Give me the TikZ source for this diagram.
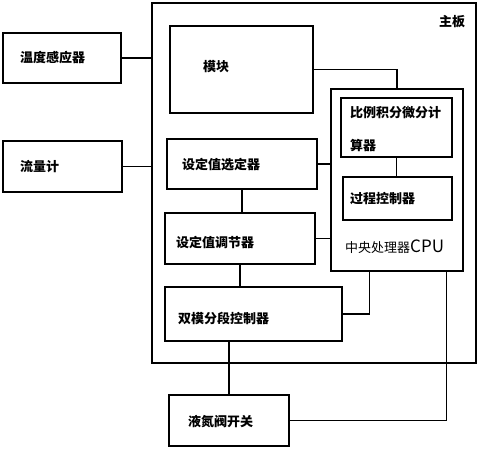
\documentclass[tikz,border=0pt]{standalone}
\usepackage{fontspec}
\newfontfamily\cjk{Noto Sans CJK SC}
\usetikzlibrary{calc}
\begin{document}
\begin{tikzpicture}[x=1pt,y=-1pt,
  box/.style={draw, line width=1.1pt, inner sep=0pt},
  lbl/.style={anchor=west, inner sep=0pt, font=\cjk\bfseries\fontsize{13}{15}\selectfont},
  conn/.style={line width=1.1pt}]
\useasboundingbox (0,0) rectangle (480,450);
% boxes
\node[box, minimum width=324pt, minimum height=360pt] (main) at (314,183) {};
\node[box, minimum width=118pt, minimum height=50pt] (temp) at (62,58) {};
\node[box, minimum width=119pt, minimum height=51pt] (flow) at (62.5,166.5) {};
\node[box, minimum width=143pt, minimum height=87pt] (module) at (241.5,69.5) {};
\node[box, minimum width=132pt, minimum height=182pt] (cpu) at (397,180) {};
\node[box, minimum width=111pt, minimum height=59pt] (pid) at (396.5,127.5) {};
\node[box, minimum width=109pt, minimum height=43pt] (proc) at (397.5,198.5) {};
\node[box, minimum width=150pt, minimum height=50pt] (sel) at (242,164) {};
\node[box, minimum width=150pt, minimum height=51pt] (adj) at (240,238.5) {};
\node[box, minimum width=177pt, minimum height=54pt] (dual) at (253.5,314) {};
\node[box, minimum width=120pt, minimum height=51pt] (valve) at (229,420.5) {};
% labels
\node[lbl, anchor=center] (tmain) at (452,22) {主板};
\node[lbl] (ttemp) at (20,58) {温度感应器};
\node[lbl] (tflow) at (20,167) {流量计};
\node[lbl] (tmodule) at (203,67) {模块};
\node[lbl] (tsel) at (182,165) {设定值选定器};
\node[lbl] (tpid1) at (350,113) {比例积分微分计};
\node[lbl] (tpid2) at (350,145) {算器};
\node[lbl] (tproc) at (350,199) {过程控制器};
\node[lbl, font=\cjk\fontsize{13}{15}\selectfont] (tcpu) at (345,247) {中央处理器\fontsize{17}{19}\selectfont CPU};
\node[lbl] (tadj) at (176,242) {设定值调节器};
\node[lbl] (tdual) at (178,318) {双模分段控制器};
\node[lbl] (tvalve) at (188,422) {液氮阀开关};
% connectors
\draw[conn] (temp.east) -- (temp.east -| main.west);
\draw[conn] (flow.east) -- (flow.east -| main.west);
\draw[conn] (module.east) -| (cpu.north);
\draw[conn] (pid.south) -- (pid.south |- proc.north);
\draw[conn] (sel.east) -- (sel.east -| cpu.west);
\draw[conn] (sel.south) -- (sel.south |- adj.north);
\draw[conn] (adj.east) -- (adj.east -| cpu.west);
\draw[conn] (adj.south) -- (adj.south |- dual.north);
\draw[conn] (dual.east) -| ([xshift=39pt]cpu.south west);
\draw[conn] (valve.north) -- (valve.north |- dual.south);
\draw[conn] (valve.east) -| ([xshift=116pt]cpu.south west);
\end{tikzpicture}
\end{document}
